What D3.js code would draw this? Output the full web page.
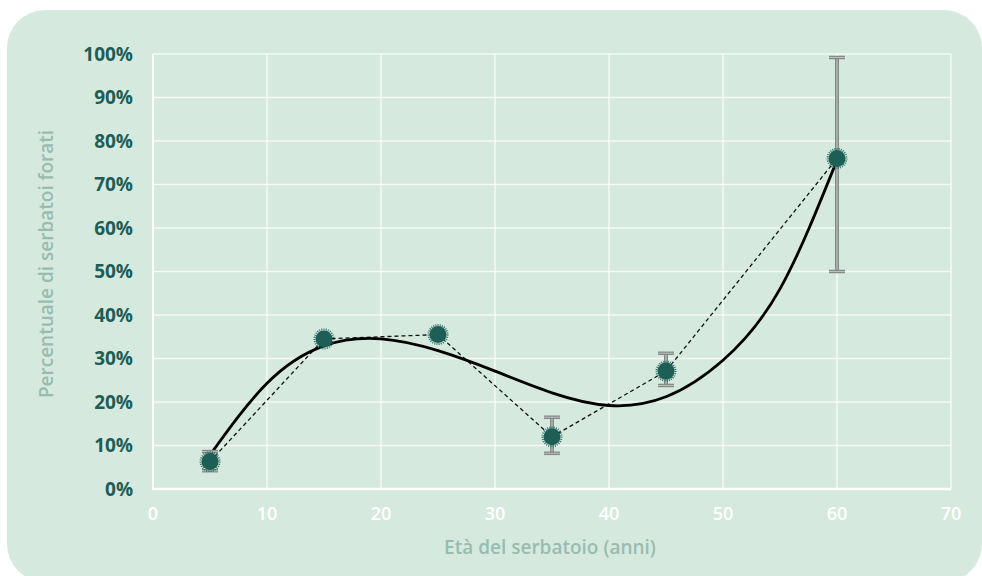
<!DOCTYPE html>
<html>
<head>
<meta charset="utf-8">
<script src="https://cdn.jsdelivr.net/npm/d3@7"></script>
<style>
  body { margin: 0; background: #ffffff; }
  svg { display: block; }
</style>
</head>
<body>
<svg id="chart" width="982" height="576"></svg>
<script>
// eta' del serbatoio (anni) e percentuale forati
var ages = [5, 15, 25, 35, 45, 60];
var pctForati = [6.3, 34.5, 35.5, 12.0, 27.1, 76.0];
var errLow = [4.2, 34.5, 35.5, 8.2, 23.8, 50.0];
var errHigh = [8.6, 34.5, 35.5, 16.5, 31.2, 99.2];

// linea di tendenza
var trendX = [5, 10, 15, 20, 25, 30, 35, 40, 45, 50, 55, 60];
var trendY = [7.8, 24.3, 32.9, 34.5, 31.8, 27.1, 22.1, 19.2, 21.2, 29.6, 46.0, 75.6];

var xTicks = [0, 10, 20, 30, 40, 50, 60, 70];
var yTicks = [0, 10, 20, 30, 40, 50, 60, 70, 80, 90, 100];

var svg = d3.select("#chart");
var teal = "#1d5e55";

// pannello di sfondo
svg.append("rect")
    .attr("x", 7).attr("y", 10)
    .attr("width", 975).attr("height", 572)
    .attr("rx", 38).attr("ry", 38)
    .attr("fill", "#d6e9df");

var x = d3.scaleLinear().domain([0, 70]).range([153, 951]);
var y = d3.scaleLinear().domain([0, 100]).range([489, 54]);

// griglia
svg.append("g").selectAll("line.h")
    .data(yTicks.slice(1))
    .enter().append("line")
    .attr("x1", x(0)).attr("x2", x(70))
    .attr("y1", function(d) { return y(d); })
    .attr("y2", function(d) { return y(d); })
    .attr("stroke", "#ffffff").attr("stroke-opacity", 0.75)
    .attr("stroke-width", 1.5);

svg.append("g").selectAll("line.v")
    .data(xTicks.slice(1))
    .enter().append("line")
    .attr("x1", function(d) { return x(d); })
    .attr("x2", function(d) { return x(d); })
    .attr("y1", y(0)).attr("y2", y(100))
    .attr("stroke", "#ffffff").attr("stroke-opacity", 0.75)
    .attr("stroke-width", 1.5);

// assi
svg.append("line")
    .attr("x1", x(0)).attr("x2", x(0))
    .attr("y1", y(100)).attr("y2", y(0))
    .attr("stroke", "#ffffff").attr("stroke-width", 2);
svg.append("line")
    .attr("x1", x(0) - 1).attr("x2", x(70))
    .attr("y1", y(0)).attr("y2", y(0))
    .attr("stroke", "#ffffff").attr("stroke-width", 2.5);

// etichette asse y
svg.append("g").selectAll("text")
    .data(yTicks)
    .enter().append("text")
    .attr("x", 133)
    .attr("y", function(d) { return y(d); })
    .attr("dy", "0.35em")
    .attr("text-anchor", "end")
    .attr("font-family", "'Open Sans', sans-serif")
    .attr("font-weight", 700)
    .attr("font-size", "19px")
    .attr("fill", teal)
    .text(function(d) { return d + "%"; });

// etichette asse x
svg.append("g").selectAll("text")
    .data(xTicks)
    .enter().append("text")
    .attr("x", function(d) { return x(d); })
    .attr("y", 514)
    .attr("dy", "0.35em")
    .attr("text-anchor", "middle")
    .attr("font-family", "'Open Sans', sans-serif")
    .attr("font-weight", 600)
    .attr("font-size", "18px")
    .attr("fill", "#ffffff")
    .text(function(d) { return d; });

// titoli assi
svg.append("text")
    .attr("x", 550).attr("y", 547)
    .attr("dy", "0.35em")
    .attr("text-anchor", "middle")
    .attr("font-family", "'Open Sans', sans-serif")
    .attr("font-weight", 600)
    .attr("font-size", "19px")
    .attr("fill", "#98bcb1")
    .text("Età del serbatoio (anni)");

svg.append("text")
    .attr("transform", "translate(46,264) rotate(-90)")
    .attr("dy", "0.35em")
    .attr("text-anchor", "middle")
    .attr("font-family", "'Open Sans', sans-serif")
    .attr("font-weight", 600)
    .attr("font-size", "19px")
    .attr("fill", "#98bcb1")
    .text("Percentuale di serbatoi forati");

// linea tratteggiata tra i punti
var pts = ages.map(function(a, i) { return [a, pctForati[i]]; });
var line = d3.line()
    .x(function(d) { return x(d[0]); })
    .y(function(d) { return y(d[1]); });

svg.append("path")
    .datum(pts)
    .attr("d", line)
    .attr("fill", "none")
    .attr("stroke", "#111111")
    .attr("stroke-width", 1.3)
    .attr("stroke-dasharray", "4,3");

// linea di tendenza
var trend = trendX.map(function(a, i) { return [a, trendY[i]]; });
svg.append("path")
    .datum(trend)
    .attr("d", line.curve(d3.curveNatural))
    .attr("fill", "none")
    .attr("stroke", "#000000")
    .attr("stroke-width", 2.8);

// barre di errore
var err = svg.append("g").selectAll("g")
    .data(ages.map(function(a, i) { return { a: a, lo: errLow[i], hi: errHigh[i] }; })
        .filter(function(d) { return d.hi - d.lo > 1; }))
    .enter().append("g");

err.append("line")
    .attr("x1", function(d) { return x(d.a); })
    .attr("x2", function(d) { return x(d.a); })
    .attr("y1", function(d) { return y(d.hi); })
    .attr("y2", function(d) { return y(d.lo); })
    .attr("stroke", "#848a87").attr("stroke-width", 4);
err.append("line")
    .attr("x1", function(d) { return x(d.a); })
    .attr("x2", function(d) { return x(d.a); })
    .attr("y1", function(d) { return y(d.hi); })
    .attr("y2", function(d) { return y(d.lo); })
    .attr("stroke", "#b9c4bf").attr("stroke-width", 1.2);

["hi", "lo"].forEach(function(k) {
    err.append("line")
        .attr("x1", function(d) { return x(d.a) - 8; })
        .attr("x2", function(d) { return x(d.a) + 8; })
        .attr("y1", function(d) { return y(d[k]); })
        .attr("y2", function(d) { return y(d[k]); })
        .attr("stroke", "#848a87").attr("stroke-width", 3.5);
    err.append("line")
        .attr("x1", function(d) { return x(d.a) - 8; })
        .attr("x2", function(d) { return x(d.a) + 8; })
        .attr("y1", function(d) { return y(d[k]); })
        .attr("y2", function(d) { return y(d[k]); })
        .attr("stroke", "#b9c4bf").attr("stroke-width", 1);
});

// marcatori
var mk = svg.append("g").selectAll("g")
    .data(pts)
    .enter().append("g")
    .attr("transform", function(d) { return "translate(" + x(d[0]) + "," + y(d[1]) + ")"; });
mk.append("circle")
    .attr("r", 9.5)
    .attr("fill", "none")
    .attr("stroke", "#2a7065")
    .attr("stroke-width", 2)
    .attr("stroke-dasharray", "1,1.2");
mk.append("circle")
    .attr("r", 8.5)
    .attr("fill", teal);
</script>
</body>
</html>
